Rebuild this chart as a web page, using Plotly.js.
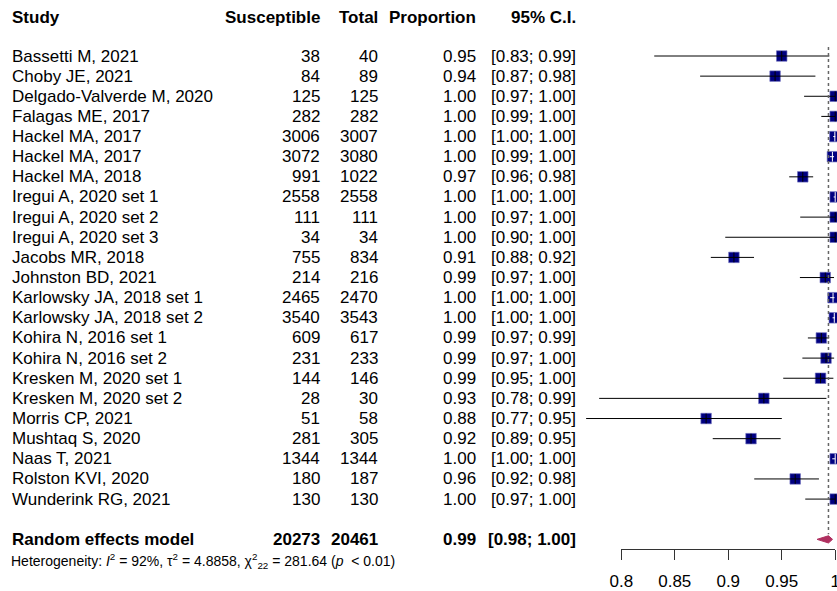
<!DOCTYPE html>
<html>
<head>
<meta charset="utf-8">
<script src="https://cdn.plot.ly/plotly-3.0.1.min.js"></script>
<style>html,body{margin:0;padding:0;background:#fff;}#chart{width:837px;height:591px;}</style>
</head>
<body>
<div id="chart"></div>
<script>
// ---- data ----
const studies = ["Bassetti M, 2021","Choby JE, 2021","Delgado-Valverde M, 2020","Falagas ME, 2017","Hackel MA, 2017","Hackel MA, 2017","Hackel MA, 2018","Iregui A, 2020 set 1","Iregui A, 2020 set 2","Iregui A, 2020 set 3","Jacobs MR, 2018","Johnston BD, 2021","Karlowsky JA, 2018 set 1","Karlowsky JA, 2018 set 2","Kohira N, 2016 set 1","Kohira N, 2016 set 2","Kresken M, 2020 set 1","Kresken M, 2020 set 2","Morris CP, 2021","Mushtaq S, 2020","Naas T, 2021","Rolston KVI, 2020","Wunderink RG, 2021"];
const susceptible = [38,84,125,282,3006,3072,991,2558,111,34,755,214,2465,3540,609,231,144,28,51,281,1344,180,130];
const total = [40,89,125,282,3007,3080,1022,2558,111,34,834,216,2470,3543,617,233,146,30,58,305,1344,187,130];
const proportion = [0.95,0.9438,1,1,0.99967,0.9974,0.9697,1,1,1,0.9053,0.9907,0.99798,0.99915,0.98703,0.99142,0.9863,0.9333,0.8793,0.9213,1,0.9626,1];
const ciLower = [0.8308,0.8737,0.9709,0.9870,0.99815,0.9949,0.9570,0.99856,0.9673,0.8972,0.8837,0.9670,0.99527,0.99752,0.97446,0.9693,0.9514,0.7793,0.7671,0.8855,0.99726,0.9243,0.9720];
const ciUpper = [0.9945,0.9815,1,1,0.99999,0.9989,0.9794,1,1,1,0.9241,0.9989,0.99934,0.99983,0.99441,0.9990,0.9983,0.9918,0.9501,0.9490,1,0.9848,1];
const pooledLabel = "Random effects model";
const pooledSusceptible = 20273, pooledTotal = 20461;
const pooledEst = 0.9937, pooledLower = 0.983, pooledUpper = 0.9975;
const heterogeneity = "Heterogeneity: <i>I</i><sup>2</sup> = 92%, τ<sup>2</sup> = 4.8858, χ<sup>2</sup><sub>22</sub> = 281.64 (<i>p</i>  &lt; 0.01)";
const tickVals = [0.8,0.85,0.9,0.95,1];
const tickText = ["0.8","0.85","0.9","0.95","1"];
const headers = {study:"Study", sus:"Susceptible", tot:"Total", prop:"Proportion", ci:"95% C.I."};

// ---- layout geometry ----
const W = 837, H = 591;
const axL = 621.3, axR = 835.2;           // pixel positions of 0.8 and 1
const ppu = (axR - axL) / (tickVals[tickVals.length-1] - tickVals[0]);
const xMin = tickVals[0] - axL / ppu;
const xMax = 1 + (W - axR) / ppu;
const rowPx = 20.14, firstRowPx = 56;
const yTop = 1 - firstRowPx / rowPx;
const yBot = 1 + (H - firstRowPx) / rowPx;
const n = studies.length;
const rows = studies.map((_, i) => i + 1);
const pooledRow = n + 2;
const hetRow = pooledRow + 1;
const headerRow = 1 + (17.5 - firstRowPx) / rowPx;
const boxSize = 10.5;
const FONT = "'Liberation Sans', Arial, Helvetica, sans-serif";
const fmt = v => v.toFixed(2);

// CI lines: white if the whole CI lies inside the box
const inside = proportion.map((p, i) => (p - ciLower[i]) * ppu < boxSize/2 && (ciUpper[i] - p) * ppu < boxSize/2);
function segs(flag) {
  const x = [], y = [];
  rows.forEach((r, i) => { if (inside[i] === flag) { x.push(ciLower[i], ciUpper[i], null); y.push(r, r, null); } });
  return {x, y};
}
const blk = segs(false), wht = segs(true);
const tickIdx = f => rows.map((r,i)=>i).filter(i => inside[i] === f);

const traces = [
  { type:"scatter", mode:"markers", x:proportion, y:rows, hoverinfo:"skip", cliponaxis:true,
    marker:{symbol:"square", size:boxSize, color:"#000080", line:{color:"rgba(110,110,190,0.8)", width:0.8}} },
  { type:"scatter", mode:"lines", x:blk.x, y:blk.y, hoverinfo:"skip", line:{color:"#000", width:1} },
  { type:"scatter", mode:"lines", x:wht.x, y:wht.y, hoverinfo:"skip", line:{color:"#fff", width:1} },
  { type:"scatter", mode:"markers", x:tickIdx(false).map(i=>proportion[i]), y:tickIdx(false).map(i=>rows[i]), hoverinfo:"skip",
    marker:{symbol:"line-ns", size:7, line:{color:"#000", width:1}} },
  { type:"scatter", mode:"markers", x:tickIdx(true).map(i=>proportion[i]), y:tickIdx(true).map(i=>rows[i]), hoverinfo:"skip",
    marker:{symbol:"line-ns", size:7, line:{color:"#fff", width:1}} },
  { type:"scatter", mode:"lines", fill:"toself", fillcolor:"#B03060", hoverinfo:"skip",
    x:[pooledLower, pooledEst, pooledUpper, pooledEst, pooledLower],
    y:[pooledRow, pooledRow - 3.6/rowPx, pooledRow, pooledRow + 3.6/rowPx, pooledRow],
    line:{color:"#B03060", width:1} },
  { type:"scatter", mode:"markers", x:[tickVals[0]], y:[pooledRow], xaxis:"x2", yaxis:"y",
    marker:{opacity:0}, hoverinfo:"skip" }
];

const ann = [];
function txt(xpx, row, text, anchor, opts) {
  ann.push(Object.assign({ x:xpx / W, xref:"paper", y:row, yref:"y", text:text, showarrow:false,
    xanchor:anchor, yanchor:"middle", font:{family:FONT, size:17, color:"#000"} }, opts || {}));
}
const B = s => "<b>" + s + "</b>";
txt(10, headerRow, B(headers.study), "left");
txt(322, headerRow, B(headers.sus), "right");
txt(380, headerRow, B(headers.tot), "right");
txt(478, headerRow, B(headers.prop), "right");
txt(578, headerRow, B(headers.ci), "right");
rows.forEach((r, i) => {
  txt(10, r, studies[i], "left");
  txt(322, r, String(susceptible[i]), "right");
  txt(380, r, String(total[i]), "right");
  txt(478, r, fmt(proportion[i]), "right");
  txt(578, r, "[" + fmt(ciLower[i]) + "; " + fmt(ciUpper[i]) + "]", "right");
});
txt(10, pooledRow, B(pooledLabel), "left");
txt(322, pooledRow, B(String(pooledSusceptible)), "right");
txt(380, pooledRow, B(String(pooledTotal)), "right");
txt(478, pooledRow, B(fmt(pooledEst)), "right");
txt(578, pooledRow, B("[" + fmt(pooledLower) + "; " + fmt(pooledUpper) + "]"), "right");
txt(9, hetRow + 0.05, heterogeneity, "left", {font:{family:FONT, size:14, color:"#000"}});

const layout = {
  width:W, height:H, margin:{l:0, r:0, t:0, b:0}, paper_bgcolor:"#fff", plot_bgcolor:"rgba(0,0,0,0)",
  showlegend:false,
  xaxis:{domain:[0,1], range:[xMin, xMax], visible:false, fixedrange:true},
  yaxis:{domain:[0,1], range:[yBot, yTop], visible:false, fixedrange:true},
  xaxis2:{domain:[axL / W, axR / W], range:[tickVals[0], tickVals[tickVals.length-1]], anchor:"free",
    position:1 - 549 / H, showline:true, linecolor:"#333", linewidth:1, ticks:"outside", ticklen:10,
    tickwidth:1, tickcolor:"#333", tickmode:"array", tickvals:tickVals, ticktext:tickText, ticklabelstandoff:7,
    tickfont:{family:FONT, size:17, color:"#000"}, showgrid:false, zeroline:false, ticklabeloverflow:"allow", fixedrange:true},
  shapes:[{type:"line", xref:"x", yref:"y", x0:pooledEst, x1:pooledEst, y0:0.55, y1:pooledRow - 0.25,
    line:{color:"#666", width:1.5, dash:"dot"}}],
  annotations:ann
};
Plotly.newPlot("chart", traces, layout, {displayModeBar:false, staticPlot:true});
</script>
</body>
</html>
